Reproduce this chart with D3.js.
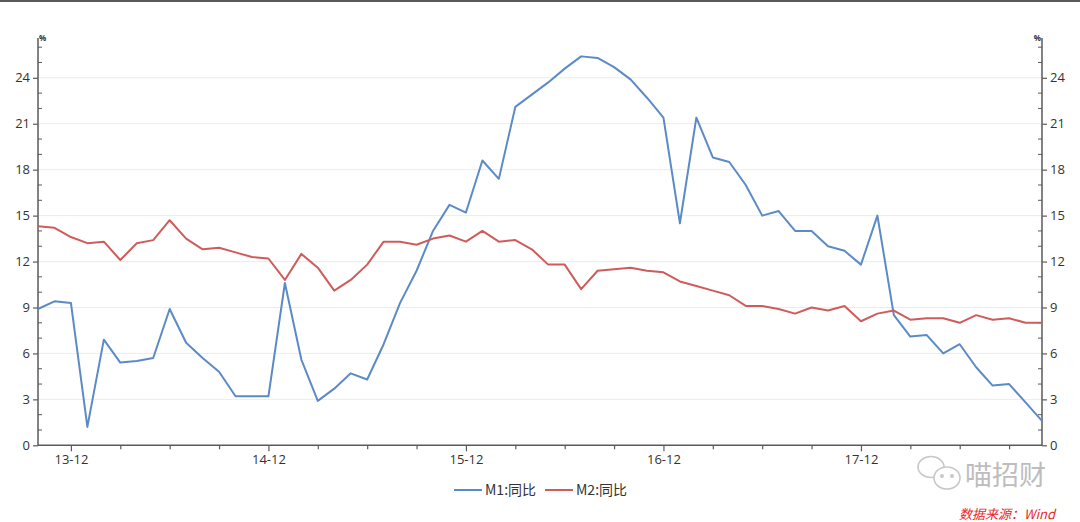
<!DOCTYPE html>
<html><head><meta charset="utf-8">
<script src="https://cdn.jsdelivr.net/npm/d3@7/dist/d3.min.js"></script>
<style>
html,body{margin:0;padding:0;background:#fff;}
svg{display:block;font-family:"Open Sans","Noto Sans CJK SC",sans-serif;}
</style></head>
<body>
<svg id="c" width="1080" height="522"></svg>
<script>
const months = ["2013-10","2013-11","2013-12","2014-01","2014-02","2014-03","2014-04","2014-05","2014-06","2014-07","2014-08","2014-09","2014-10","2014-11","2014-12","2015-01","2015-02","2015-03","2015-04","2015-05","2015-06","2015-07","2015-08","2015-09","2015-10","2015-11","2015-12","2016-01","2016-02","2016-03","2016-04","2016-05","2016-06","2016-07","2016-08","2016-09","2016-10","2016-11","2016-12","2017-01","2017-02","2017-03","2017-04","2017-05","2017-06","2017-07","2017-08","2017-09","2017-10","2017-11","2017-12","2018-01","2018-02","2018-03","2018-04","2018-05","2018-06","2018-07","2018-08","2018-09","2018-10","2018-11"];
const m1 = [8.9,9.4,9.3,1.2,6.9,5.4,5.5,5.7,8.9,6.7,5.7,4.8,3.2,3.2,3.2,10.6,5.6,2.9,3.7,4.7,4.3,6.6,9.3,11.4,14.0,15.7,15.2,18.6,17.4,22.1,22.9,23.7,24.6,25.4,25.3,24.7,23.9,22.7,21.4,14.5,21.4,18.8,18.5,17.0,15.0,15.3,14.0,14.0,13.0,12.7,11.8,15.0,8.5,7.1,7.2,6.0,6.6,5.1,3.9,4.0,2.8,1.6];
const m2 = [14.3,14.2,13.6,13.2,13.3,12.1,13.2,13.4,14.7,13.5,12.8,12.9,12.6,12.3,12.2,10.8,12.5,11.6,10.1,10.8,11.8,13.3,13.3,13.1,13.5,13.7,13.3,14.0,13.3,13.4,12.8,11.8,11.8,10.2,11.4,11.5,11.6,11.4,11.3,10.7,10.4,10.1,9.8,9.1,9.1,8.9,8.6,9.0,8.8,9.1,8.1,8.6,8.8,8.2,8.3,8.3,8.0,8.5,8.2,8.3,8.0,8.0];
const seriesNames = ["M1:同比","M2:同比"];
const yTicks = [0,3,6,9,12,15,18,21,24];
const yMinor = [1,2,4,5,7,8,10,11,13,14,16,17,19,20,22,23,25,26];

const svg = d3.select("#c");
const L = 38, R = 1042, B = 445.3, T = 38;
const x = d3.scalePoint().domain(months).range([L, R]);
const y = d3.scaleLinear().domain([0, 26.6]).range([B, T]);

// top border
svg.append("rect").attr("x",0).attr("y",0).attr("width",1080).attr("height",2).attr("fill","#5a5a5a");

// grid
svg.append("g").selectAll("line").data(yTicks.filter(d=>d>0)).join("line")
  .attr("x1",L).attr("x2",R).attr("y1",d=>y(d)).attr("y2",d=>y(d))
  .attr("stroke","#ececec").attr("stroke-width",1);

const axisColor = "#5a5a5a";
// left axis
const gl = svg.append("g").attr("transform",`translate(${L},0)`);
gl.call(d3.axisLeft(y).tickValues(yTicks).tickSize(5).tickPadding(3).tickFormat(d3.format("d")));
gl.append("g").selectAll("line").data(yMinor).join("line")
  .attr("x1",0).attr("x2",4).attr("y1",d=>y(d)).attr("y2",d=>y(d)).attr("stroke",axisColor);
// right axis
const gr = svg.append("g").attr("transform",`translate(${R},0)`);
gr.call(d3.axisRight(y).tickValues(yTicks).tickSize(5).tickPadding(3).tickFormat(d3.format("d")));
gr.append("g").selectAll("line").data(yMinor).join("line")
  .attr("x1",0).attr("x2",-4).attr("y1",d=>y(d)).attr("y2",d=>y(d)).attr("stroke",axisColor);
// bottom axis
const qMonths = months.filter(m=>["03","06","09","12"].includes(m.slice(5)));
const gb = svg.append("g").attr("transform",`translate(0,${B})`);
gb.call(d3.axisBottom(x).tickValues(qMonths).tickSize(5).tickPadding(4)
  .tickFormat(m => m.slice(5)==="12" ? m.slice(2,4)+"-12" : ""));
gb.selectAll(".tick line").attr("y2", m => m.slice(5)==="12" ? 6 : 4);

[gl,gr,gb].forEach(g=>{
  g.select(".domain").attr("stroke",axisColor).attr("stroke-width",1.5);
  g.selectAll(".tick line").attr("stroke",axisColor).attr("stroke-width",1.2);
  g.selectAll("text").attr("fill","#333").style("font-size","13px").style("font-family","'Open Sans',sans-serif");
});
gl.select(".domain").attr("d",`M0,${T}V${B}`);
gr.select(".domain").attr("d",`M0,${T}V${B}`);
gb.select(".domain").attr("d",`M${L},0H${R}`);

// % labels
svg.append("text").attr("x",L+1).attr("y",T+3).text("%").attr("font-size","8px").attr("font-weight","bold").attr("fill","#333");
svg.append("text").attr("x",R-1).attr("y",T+3).attr("text-anchor","end").text("%").attr("font-size","8px").attr("font-weight","bold").attr("fill","#333");

// lines
const line = d3.line().x((d,i)=>x(months[i])).y(d=>y(d));
const colors = ["#5b8bc7","#cf5c5a"];
[m1,m2].forEach((s,k)=>{
  svg.append("path").datum(s).attr("d",line).attr("fill","none")
    .attr("stroke",colors[k]).attr("stroke-width",2).attr("stroke-linejoin","round");
});

// legend
const legX = [454, 545];
seriesNames.forEach((n,k)=>{
  svg.append("line").attr("x1",legX[k]).attr("x2",legX[k]+28).attr("y1",490).attr("y2",490)
    .attr("stroke",colors[k]).attr("stroke-width",2);
  svg.append("text").attr("x",legX[k]+31).attr("y",495).text(n)
    .attr("font-size","14px").attr("fill","#333").style("font-family","'Noto Sans CJK SC',sans-serif");
});

// watermark
const wm = svg.append("g").attr("fill","none").attr("stroke","#c8c8c8").attr("stroke-width",1.6);
wm.append("ellipse").attr("cx",931).attr("cy",467).attr("rx",13).attr("ry",10.5);
wm.append("ellipse").attr("cx",947).attr("cy",478).attr("rx",13).attr("ry",11).attr("fill","#fff");
wm.append("circle").attr("cx",942).attr("cy",476).attr("r",1.2).attr("fill","#c8c8c8");
wm.append("circle").attr("cx",952).attr("cy",476).attr("r",1.2).attr("fill","#c8c8c8");
svg.append("text").attr("x",965).attr("y",485).text("喵招财").attr("font-size","27px")
  .attr("fill","#bdbdbd").style("font-family","'Noto Sans CJK SC',sans-serif");

// source
svg.append("text").attr("x",1055).attr("y",519).attr("text-anchor","end").text("数据来源：Wind")
  .attr("font-size","13px").attr("font-style","italic").attr("fill","#e8262a")
  .style("font-family","'Noto Sans CJK SC',sans-serif");
</script>
</body></html>
